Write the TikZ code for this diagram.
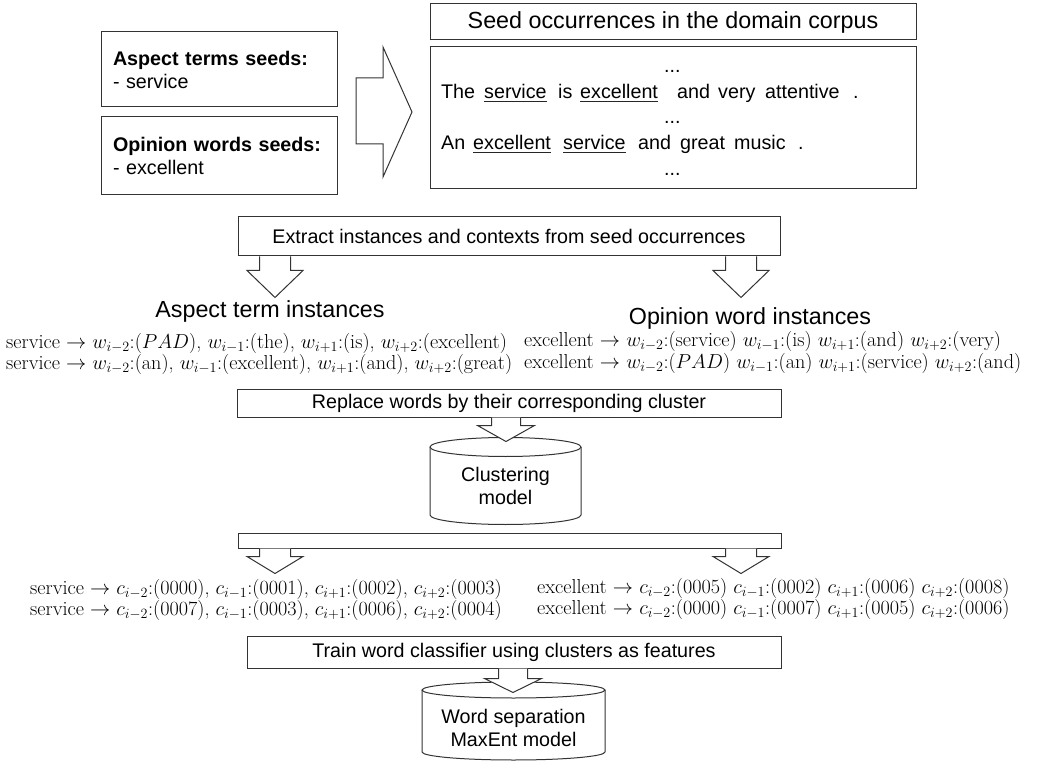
\RequirePackage{fix-cm}
\documentclass[tikz,border=0pt]{standalone}
\usepackage{fontspec}
\newfontfamily\arial{Liberation Sans}
\usetikzlibrary{calc}

\tikzset{
  outline/.style={draw=black!80, line width=1pt},
  box/.style={outline, fill=white, inner sep=0pt},
  sans/.style={font=\arial\fontsize{19.7}{23}\selectfont},
  bigsans/.style={font=\arial\fontsize{23.3}{27}\selectfont},
  word/.style={sans, anchor=base west, inner sep=0pt},
  formula/.style={font=\fontsize{20.2}{24}\selectfont, anchor=base west, inner sep=0pt},
  uline/.style={draw=black!85, line width=0.9pt},
  arrowshape/.style={outline, fill=white, line join=miter},
  pics/blockdown/.style n args={4}{code={
    \draw[arrowshape] (-#1,0) -- (-#1,#3) -- (-#2,#3) -- (0,#4) -- (#2,#3) -- (#1,#3) -- (#1,0);
  }},
}

\begin{document}
\begin{tikzpicture}[x=1pt,y=-1pt]
\useasboundingbox (0,0) rectangle (1042,762);

% seed lists
\node[box, sans, minimum width=236pt, minimum height=75pt, text width=212pt, align=left]
  (aseeds) at (219,69.5) {\textbf{Aspect terms seeds:}\\- service};
\node[box, sans, minimum width=236pt, minimum height=78pt, text width=212pt, align=left]
  (oseeds) at (219,156) {\textbf{Opinion words seeds:}\\- excellent};

% wide arrow towards the corpus
\draw[arrowshape] (356,78) -- (383,78) -- (383,47) -- (412,112) -- (383,177) -- (383,144) -- (356,144) -- cycle;

% corpus
\node[box, bigsans, minimum width=486pt, minimum height=36pt] (title) at (673,22) {Seed occurrences in the domain corpus};
\node[box, minimum width=486pt, minimum height=142pt] (corpus) at (673,118) {};

\node[word] (d1) at (664,72.5) {...};
\node[word] (w11) at (441,98.5) {The};
\node[word] (w12) at (484,98.5) {service};
\node[word] (w13) at (558,98.5) {is};
\node[word] (w14) at (580,98.5) {excellent};
\node[word] (w15) at (677,98.5) {and};
\node[word] (w16) at (718,98.5) {very};
\node[word] (w17) at (765,98.5) {attentive};
\node[word] (w18) at (853,98.5) {.};
\node[word] (d2) at (664,124) {...};
\node[word] (w21) at (441,149.5) {An};
\node[word] (w22) at (473,149.5) {excellent};
\node[word] (w23) at (563,149.5) {service};
\node[word] (w24) at (638,149.5) {and};
\node[word] (w25) at (680,149.5) {great};
\node[word] (w26) at (734,149.5) {music};
\node[word] (w27) at (798,149.5) {.};
\node[word] (d3) at (664,175.5) {...};
\foreach \n in {w12,w14,w22,w23}
  \draw[uline] ([yshift=-2.8pt]\n.base west) -- ([yshift=-2.8pt]\n.base east);

% extraction step
\node[box, sans, minimum width=542pt, minimum height=39pt] (ext) at (509,236.5) {Extract instances and contexts from seed occurrences};

\coordinate (colL) at (275,0);
\coordinate (colR) at (741,0);
\coordinate (colA) at (506,0);
\coordinate (colB) at (513,0);

\pic at (ext.south -| colL) {blockdown={15.5}{28}{14}{41}};
\pic at (ext.south -| colR) {blockdown={15.5}{28}{14}{41}};

\node[bigsans, anchor=base, inner sep=0pt] (atitle) at (270,317) {Aspect term instances};
\node[bigsans, anchor=base, inner sep=0pt] (otitle) at (750,324) {Opinion word instances};

\node[formula] (al1) at (6,348) {service $\rightarrow$ $w_{i-2}$:($PAD$), $w_{i-1}$:(the), $w_{i+1}$:(is), $w_{i+2}$:(excellent)};
\node[formula] (al2) at (6,369) {service $\rightarrow$ $w_{i-2}$:(an), $w_{i-1}$:(excellent), $w_{i+1}$:(and), $w_{i+2}$:(great)};
\node[formula] (ol1) at (524,346) {excellent $\rightarrow$ $w_{i-2}$:(service) $w_{i-1}$:(is) $w_{i+1}$:(and) $w_{i+2}$:(very)};
\node[formula] (ol2) at (524,368) {excellent $\rightarrow$ $w_{i-2}$:($PAD$) $w_{i-1}$:(an) $w_{i+1}$:(service) $w_{i+2}$:(and)};

% clustering step
\node[box, sans, minimum width=544pt, minimum height=28pt] (rep) at (509,403) {Replace words by their corresponding cluster};

\draw[outline, fill=white] (430,447) -- (430,515) arc[start angle=180, end angle=360, x radius=75.5pt, y radius=9.5pt] -- (581,447);
\draw[outline] (505.5,447) ellipse [x radius=75.5pt, y radius=9.5pt];
\node[sans, align=center, inner sep=0pt] (clus) at (505.5,486) {Clustering\\model};

\pic at (rep.south -| colA) {blockdown={14.5}{28.5}{8}{24}};

\node[box, minimum width=543pt, minimum height=15pt] (emp) at (509.5,540.5) {};
\pic at (emp.south -| colL) {blockdown={15.5}{28}{8}{25}};
\pic at (emp.south -| colR) {blockdown={15.5}{28}{8}{25}};

\node[formula] (cl1) at (30,594) {service $\rightarrow$ $c_{i-2}$:(0000), $c_{i-1}$:(0001), $c_{i+1}$:(0002), $c_{i+2}$:(0003)};
\node[formula] (cl2) at (30,615) {service $\rightarrow$ $c_{i-2}$:(0007), $c_{i-1}$:(0003), $c_{i+1}$:(0006), $c_{i+2}$:(0004)};
\node[formula] (cr1) at (537,593) {excellent $\rightarrow$ $c_{i-2}$:(0005) $c_{i-1}$:(0002) $c_{i+1}$:(0006) $c_{i+2}$:(0008)};
\node[formula] (cr2) at (537,614) {excellent $\rightarrow$ $c_{i-2}$:(0000) $c_{i-1}$:(0007) $c_{i+1}$:(0005) $c_{i+2}$:(0006)};

% classifier step
\node[box, sans, minimum width=534pt, minimum height=32pt] (train) at (514,652) {Train word classifier using clusters as features};

\draw[outline, fill=white] (422,690) -- (422,752) arc[start angle=180, end angle=360, x radius=91.5pt, y radius=8pt] -- (605,690);
\draw[outline] (513.5,690) ellipse [x radius=91.5pt, y radius=8pt];
\node[sans, align=center, inner sep=0pt] (maxent) at (513.5,728) {Word separation\\MaxEnt model};

\pic at (train.south -| colB) {blockdown={14.5}{28.5}{10}{24}};
\end{tikzpicture}
\end{document}
